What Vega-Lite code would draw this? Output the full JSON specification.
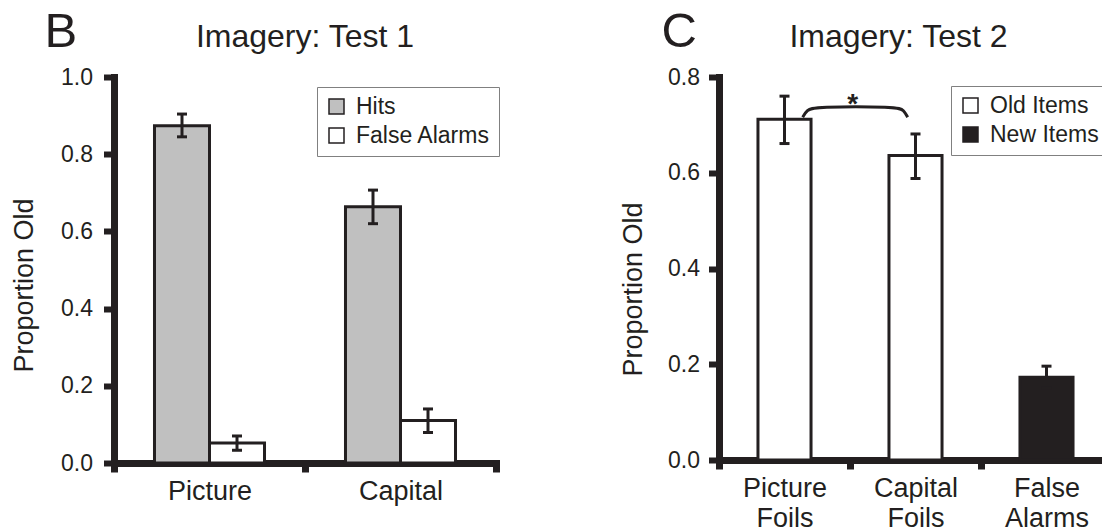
{
  "$schema": "https://vega.github.io/schema/vega-lite/v6.json",
  "background": "white",
  "padding": {"left": 10, "top": 8, "right": 0, "bottom": 0},
  "spacing": 119,
  "resolve": {"scale": {"x": "independent", "y": "independent", "color": "independent"}, "legend": {"color": "independent"}},
  "config": {
    "font": "Liberation Sans",
    "view": {"stroke": null},
    "axis": {"domainColor": "#231f20", "tickColor": "#231f20", "labelColor": "#231f20", "titleColor": "#231f20", "grid": false, "titleFontWeight": "normal", "domainWidth": 7, "domainCap": "square", "tickWidth": 6, "zindex": 1},
    "title": {"fontWeight": "normal", "color": "#231f20"},
    "legend": {"labelColor": "#231f20", "labelFontSize": 23, "symbolType": "square", "symbolSize": 225, "symbolStrokeColor": "#231f20", "symbolStrokeWidth": 1.5, "strokeColor": "#808080", "padding": 8, "labelOffset": 8, "rowPadding": 5, "title": null}
  },
  "hconcat": [
    {
      "title": {"text": "B", "anchor": "start", "frame": "bounds", "fontSize": 49, "baseline": "alphabetic", "offset": -75, "dx": 34},
      "resolve": {"scale": {"color": "independent"}, "legend": {"color": "independent"}},
      "vconcat": [
        {
          "title": {"text": "Imagery: Test 1", "fontSize": 32, "anchor": "middle", "baseline": "alphabetic", "offset": -13},
          "width": 382,
          "height": 386,
          "data": {"values": [
            {"cat": "Picture", "series": "Hits", "value": 0.874, "lo": 0.845, "hi": 0.904},
            {"cat": "Picture", "series": "False Alarms", "value": 0.052, "lo": 0.033, "hi": 0.07},
            {"cat": "Capital", "series": "Hits", "value": 0.664, "lo": 0.62, "hi": 0.707},
            {"cat": "Capital", "series": "False Alarms", "value": 0.11, "lo": 0.079, "hi": 0.14}
          ]},
          "layer": [
            {
              "mark": {"type": "bar", "stroke": "#231f20", "strokeWidth": 3},
              "encoding": {
                "x": {"field": "cat", "type": "nominal", "sort": ["Picture", "Capital"], "scale": {"paddingInner": 0, "paddingOuter": 0},
                  "axis": {"title": null, "labelAngle": 0, "labelFontSize": 27, "labelPadding": 6, "tickSize": 9, "tickWidth": 7, "tickBand": "extent"}},
                "xOffset": {"field": "series", "type": "nominal", "scale": {"domain": ["Hits", "False Alarms"], "paddingInner": 0, "paddingOuter": 0.736}},
                "y": {"field": "value", "type": "quantitative", "scale": {"domain": [0, 1], "nice": false},
                  "axis": {"title": "Proportion Old", "titleFontSize": 27, "titlePadding": 22, "titleY": 208, "values": [0, 0.2, 0.4, 0.6, 0.8, 1], "format": ".1f", "labelFontSize": 23, "labelPadding": 11, "tickSize": 10.5}},
                "color": {"field": "series", "type": "nominal", "scale": {"domain": ["Hits", "False Alarms"], "range": ["#c0c0c0", "#ffffff"]},
                  "legend": {"orient": "none", "legendX": 203, "legendY": 10}}
              }
            },
            {
              "mark": {"type": "rule", "strokeWidth": 3, "color": "#231f20"},
              "encoding": {
                "x": {"field": "cat", "type": "nominal", "sort": ["Picture", "Capital"]},
                "xOffset": {"field": "series", "type": "nominal"},
                "y": {"field": "lo", "type": "quantitative"},
                "y2": {"field": "hi"}
              }
            },
            {
              "mark": {"type": "tick", "thickness": 3, "size": 10, "color": "#231f20", "opacity": 1},
              "encoding": {
                "x": {"field": "cat", "type": "nominal", "sort": ["Picture", "Capital"]},
                "xOffset": {"field": "series", "type": "nominal"},
                "y": {"field": "lo", "type": "quantitative"}
              }
            },
            {
              "mark": {"type": "tick", "thickness": 3, "size": 10, "color": "#231f20", "opacity": 1},
              "encoding": {
                "x": {"field": "cat", "type": "nominal", "sort": ["Picture", "Capital"]},
                "xOffset": {"field": "series", "type": "nominal"},
                "y": {"field": "hi", "type": "quantitative"}
              }
            }
          ]
        }
      ]
    },
    {
      "title": {"text": "C", "anchor": "start", "frame": "bounds", "fontSize": 49, "baseline": "alphabetic", "offset": -75, "dx": 42},
      "resolve": {"scale": {"color": "independent"}, "legend": {"color": "independent"}},
      "vconcat": [
        {
          "title": {"text": "Imagery: Test 2", "fontSize": 32, "anchor": "middle", "baseline": "alphabetic", "offset": -13, "dx": -17},
          "width": 393,
          "height": 383,
          "resolve": {"scale": {"x": "independent"}},
          "layer": [
            {
              "data": {"values": [
                {"cat": "Picture Foils", "series": "Old Items", "value": 0.712, "lo": 0.661, "hi": 0.76},
                {"cat": "Capital Foils", "series": "Old Items", "value": 0.636, "lo": 0.588, "hi": 0.681},
                {"cat": "False Alarms", "series": "New Items", "value": 0.173, "lo": 0.15, "hi": 0.196}
              ]},
              "layer": [
                {
                  "mark": {"type": "bar", "stroke": "#231f20", "strokeWidth": 3, "width": {"band": 0.405}},
                  "encoding": {
                    "x": {"field": "cat", "type": "nominal", "sort": ["Picture Foils", "Capital Foils", "False Alarms"], "scale": {"paddingInner": 0, "paddingOuter": 0},
                      "axis": {"title": null, "labelAngle": 0, "labelFontSize": 27, "labelPadding": 6, "tickSize": 9, "tickWidth": 7, "tickBand": "extent", "labelExpr": "split(datum.label, ' ')", "labelLineHeight": 30}},
                    "y": {"field": "value", "type": "quantitative", "scale": {"domain": [0, 0.8], "nice": false},
                      "axis": {"title": "Proportion Old", "titleFontSize": 27, "titlePadding": 20, "titleY": 212, "values": [0, 0.2, 0.4, 0.6, 0.8], "format": ".1f", "labelFontSize": 23, "labelPadding": 9, "tickSize": 10.5}},
                    "color": {"field": "series", "type": "nominal", "scale": {"domain": ["Old Items", "New Items"], "range": ["#ffffff", "#231f20"]},
                      "legend": {"orient": "none", "legendX": 232, "legendY": 9}}
                  }
                },
                {
                  "mark": {"type": "rule", "strokeWidth": 3, "color": "#231f20"},
                  "encoding": {
                    "x": {"field": "cat", "type": "nominal", "sort": ["Picture Foils", "Capital Foils", "False Alarms"]},
                    "y": {"field": "lo", "type": "quantitative"},
                    "y2": {"field": "hi"}
                  }
                },
                {
                  "mark": {"type": "tick", "thickness": 3, "size": 10, "color": "#231f20", "opacity": 1},
                  "encoding": {
                    "x": {"field": "cat", "type": "nominal", "sort": ["Picture Foils", "Capital Foils", "False Alarms"]},
                    "y": {"field": "lo", "type": "quantitative"}
                  }
                },
                {
                  "mark": {"type": "tick", "thickness": 3, "size": 10, "color": "#231f20", "opacity": 1},
                  "encoding": {
                    "x": {"field": "cat", "type": "nominal", "sort": ["Picture Foils", "Capital Foils", "False Alarms"]},
                    "y": {"field": "hi", "type": "quantitative"}
                  }
                }
              ]
            },
            {
              "data": {"values": [
                {"ord": 1, "u": 0.639, "value": 0.716},
                {"ord": 2, "u": 0.672, "value": 0.731},
                {"ord": 3, "u": 0.727, "value": 0.738},
                {"ord": 4, "u": 1.364, "value": 0.738},
                {"ord": 5, "u": 1.41, "value": 0.731},
                {"ord": 6, "u": 1.44, "value": 0.716}
              ]},
              "mark": {"type": "line", "interpolate": "basis", "strokeWidth": 3, "color": "#231f20"},
              "encoding": {
                "x": {"field": "u", "type": "quantitative", "scale": {"domain": [0, 3], "nice": false, "zero": false}, "axis": null},
                "y": {"field": "value", "type": "quantitative"},
                "order": {"field": "ord"}
              }
            },
            {
              "data": {"values": [{"u": 1.02, "value": 0.725, "label": "*"}]},
              "mark": {"type": "text", "fontSize": 28, "fontWeight": "bold", "baseline": "alphabetic", "color": "#231f20"},
              "encoding": {
                "x": {"field": "u", "type": "quantitative", "scale": {"domain": [0, 3], "nice": false, "zero": false}, "axis": null},
                "y": {"field": "value", "type": "quantitative"},
                "text": {"field": "label"}
              }
            }
          ]
        }
      ]
    }
  ]
}
